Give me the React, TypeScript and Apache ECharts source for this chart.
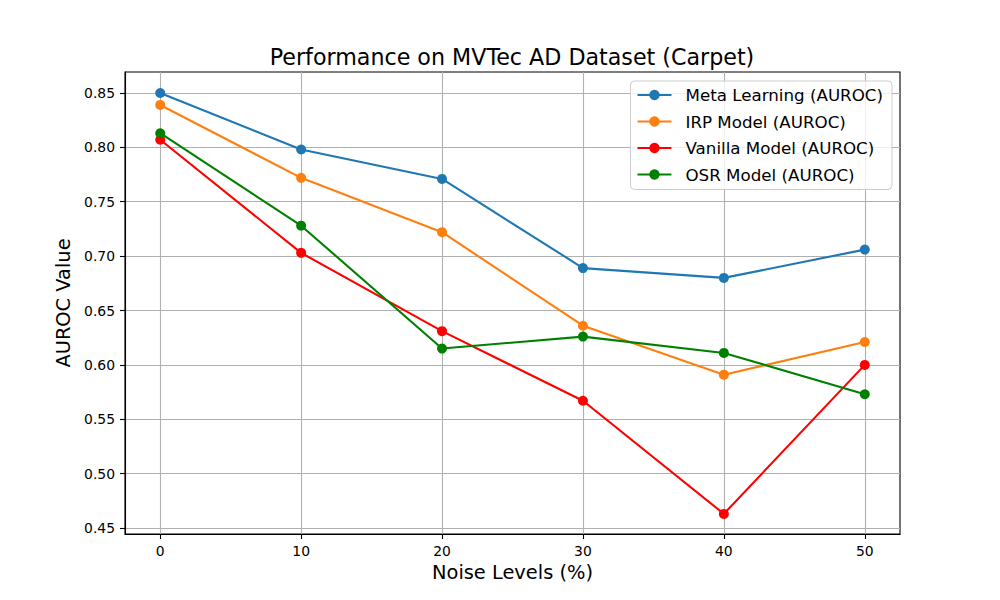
import React, { useEffect, useRef } from "react";
import * as echarts from "echarts";

const noiseLevels = [0, 10, 20, 30, 40, 50];
const metaLearning = [0.85, 0.798, 0.771, 0.689, 0.68, 0.706];
const irpModel = [0.839, 0.772, 0.722, 0.636, 0.591, 0.621];
const vanillaModel = [0.807, 0.703, 0.631, 0.567, 0.463, 0.6];
const osrModel = [0.813, 0.728, 0.615, 0.626, 0.611, 0.573];
const yTicks = [0.45, 0.5, 0.55, 0.6, 0.65, 0.7, 0.75, 0.8, 0.85];
const xTicks = [0, 10, 20, 30, 40, 50];

const seriesNames = [
  "Meta Learning (AUROC)",
  "IRP Model (AUROC)",
  "Vanilla Model (AUROC)",
  "OSR Model (AUROC)",
];
const seriesData = [metaLearning, irpModel, vanillaModel, osrModel];
const seriesColors = ["#1f77b4", "#ff7f0e", "#ff0000", "#008000"];

const FONT = "DejaVu Sans";

export default function App() {
  const ref = useRef<HTMLDivElement>(null);
  useEffect(() => {
    if (!ref.current) return;
    const chart = echarts.init(ref.current, undefined, { renderer: "svg" });
    chart.setOption({
      animation: false,
      backgroundColor: "#ffffff",
      title: {
        text: "Performance on MVTec AD Dataset (Carpet)",
        left: 512,
        textAlign: "center",
        top: 45,
        padding: 0,
        textStyle: {
          fontFamily: FONT,
          fontSize: 22.2,
          fontWeight: "normal",
          color: "#000",
          lineHeight: 24,
        },
      },
      legend: {
        orient: "vertical",
        right: 108,
        top: 81,
        padding: [5.5, 9, 6.5, 6],
        itemWidth: 34,
        itemHeight: 13,
        itemGap: 9.5,
        backgroundColor: "rgba(255,255,255,0.8)",
        borderColor: "#cccccc",
        borderWidth: 1,
        borderRadius: 4,
        textStyle: {
          fontFamily: FONT,
          fontSize: 16.7,
          color: "#000",
          lineHeight: 17,
          padding: [0, 0, 0, 9],
        },
        data: seriesNames,
      },
      grid: {
        left: 125,
        right: 100,
        top: 72,
        bottom: 66,
        show: true,
        borderColor: "#000",
        borderWidth: 1.1,
        containLabel: false,
      },
      xAxis: {
        type: "value",
        min: -2.5,
        max: 52.5,
        name: "Noise Levels (%)",
        nameLocation: "middle",
        nameGap: 27,
        nameTextStyle: { fontFamily: FONT, fontSize: 19.4, color: "#000" },
        axisLine: { show: true, onZero: false, lineStyle: { color: "#000", width: 1.1 } },
        axisTick: {
          show: true,
          length: 5,
          lineStyle: { color: "#000", width: 1.1 },
          customValues: xTicks,
        },
        axisLabel: {
          fontFamily: FONT,
          fontSize: 13.9,
          color: "#000",
          margin: 10,
          customValues: xTicks,
          formatter: (v: number) => String(v),
        },
        splitLine: { show: true, lineStyle: { color: "#b0b0b0", width: 1.1 } },
      },
      yAxis: {
        type: "value",
        min: 0.4445,
        max: 0.8693,
        name: "AUROC Value",
        nameLocation: "middle",
        nameGap: 47,
        nameTextStyle: { fontFamily: FONT, fontSize: 19.4, color: "#000" },
        axisLine: { show: true, onZero: false, lineStyle: { color: "#000", width: 1.1 } },
        axisTick: {
          show: true,
          length: 5,
          lineStyle: { color: "#000", width: 1.1 },
          customValues: yTicks,
        },
        axisLabel: {
          fontFamily: FONT,
          fontSize: 13.9,
          color: "#000",
          margin: 10,
          customValues: yTicks,
          formatter: (v: number) => v.toFixed(2),
        },
        splitLine: { show: true, lineStyle: { color: "#b0b0b0", width: 1.1 } },
      },
      series: seriesNames.map((name, i) => ({
        name,
        type: "line",
        data: noiseLevels.map((x, j) => [x, seriesData[i][j]]),
        symbol: "circle",
        symbolSize: 10,
        color: seriesColors[i],
        lineStyle: { color: seriesColors[i], width: 2.1 },
        itemStyle: { color: seriesColors[i] },
        emphasis: { disabled: true },
        z: 3 + i,
      })),
    });
    return () => chart.dispose();
  }, []);
  return (
    <div
      ref={ref}
      style={{ position: "absolute", left: 0, top: 0, width: 1000, height: 600 }}
    />
  );
}
